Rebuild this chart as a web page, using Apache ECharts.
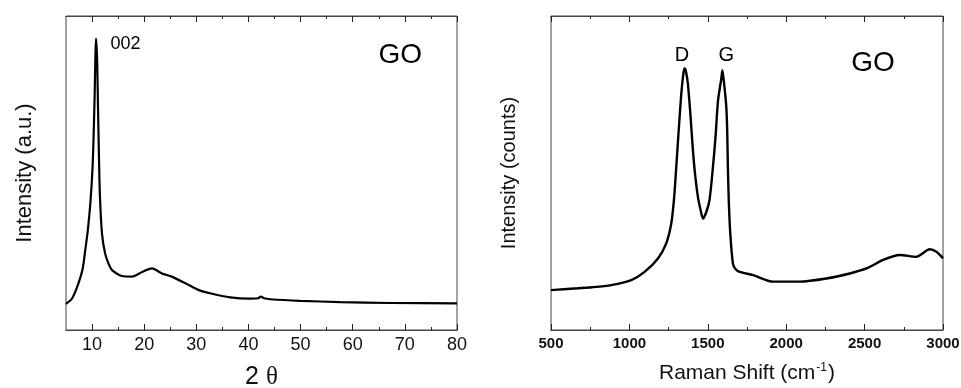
<!DOCTYPE html>
<html><head><meta charset="utf-8">
<script src="https://cdn.jsdelivr.net/npm/echarts@6/dist/echarts.min.js"></script>
<style>html,body{margin:0;padding:0;background:#fff}#c{width:961px;height:388px}</style>
</head><body><div id="c"></div>
<script>
// XRD pattern (2θ, intensity a.u.)
const xrdX = [5, 6.2, 7.4, 8.2, 8.7, 9.2, 9.7, 10.1, 10.3, 10.5, 10.65, 10.76, 10.9, 11.0, 11.15, 11.3, 11.5, 11.9, 12.5, 13.2, 13.8, 14.7, 15.7, 17.7, 19.6, 21.5, 23.4, 25.3, 27.9, 30.5, 32.6, 36.5, 40.3, 41.8, 42.4, 43.0, 44.2, 49.9, 57.6, 67.2, 80];
const xrdY = [8.3, 10.1, 14.9, 19.5, 25.5, 32, 41, 52, 62, 75, 88, 92.8, 89, 84, 70, 57, 43, 30.8, 24.4, 21, 19.1, 18, 17.2, 17.0, 18.5, 19.6, 18.0, 17.0, 14.9, 12.7, 11.7, 10.4, 10.0, 10.1, 10.6, 10.1, 9.8, 9.3, 8.9, 8.6, 8.5];
// Raman spectrum (shift cm-1, counts)
const ramanX = [500, 580, 671, 760, 884, 1012, 1097, 1182, 1235, 1267, 1285, 1299, 1315, 1331, 1345, 1352, 1360, 1373, 1390, 1405, 1420, 1437, 1455, 1469, 1490, 1511, 1533, 1550, 1565, 1586, 1593, 1605, 1618, 1624, 1628, 1634, 1643, 1660, 1675, 1703, 1788, 1916, 2086, 2256, 2405, 2512, 2618, 2724, 2830, 2915, 2958, 3000];
const ramanY = [12.7, 13.0, 13.3, 13.6, 14.3, 15.9, 18.5, 22.8, 27.6, 33.9, 42, 52, 64, 75.3, 82, 83.3, 82.5, 78.5, 68, 57.3, 49, 42.4, 38, 35.5, 37.5, 41.4, 52, 62, 73, 80, 82.7, 78, 71, 63, 52, 41, 31, 21.2, 19.5, 18.5, 17.5, 15.4, 15.4, 16.4, 18.0, 19.6, 22.3, 23.9, 23.3, 25.7, 24.9, 22.8];
// ticks
const xrdMajor = [10, 20, 30, 40, 50, 60, 70, 80];
const xrdMinor = [15, 25, 35, 45, 55, 65, 75];
// annotations
const xrdNotes = [{text: '002', x: 16.4, y: 91.2, size: 18}, {text: 'GO', x: 69.1, y: 87.5, size: 28}];
const ramanNotes = [{text: 'D', x: 1335, y: 87.5, size: 20}, {text: 'G', x: 1618, y: 87.5, size: 20}, {text: 'GO', x: 2554, y: 84.9, size: 28}];

const FONT = 'Liberation Sans, Arial, sans-serif';
const zip = (a, b) => a.map((v, i) => [v, b[i]]);
const tickCol = '#222';
const lineCol = '#444';

const leftBox = {left: 66, right: 504, top: 16, bottom: 58, containLabel: false, outerBoundsMode: 'none'};
const rightBox = {left: 551, right: 18, top: 16, bottom: 58, containLabel: false, outerBoundsMode: 'none'};

function xAx(grid, min, max, opts) {
  return Object.assign({
    type: 'value', gridIndex: grid, min: min, max: max,
    axisLine: {show: true, onZero: false, lineStyle: {color: lineCol, width: 1}}, splitLine: {show: false},
    axisLabel: {show: false}, axisTick: {show: false}
  }, opts);
}
function hiddenY(grid) {
  return {type: 'value', gridIndex: grid, min: 0, max: 100, show: false};
}
function notes(arr) {
  return {
    symbol: 'circle', symbolSize: 0,
    data: arr.map(n => ({coord: [n.x, n.y], value: n.text,
      label: {show: true, position: 'inside', formatter: n.text, fontSize: n.size, color: '#000', fontFamily: FONT}}))
  };
}

const chart = echarts.init(document.getElementById('c'), null, {renderer: 'canvas'});
chart.setOption({
  animation: false,
  grid: [
    Object.assign({show: true, borderColor: lineCol, borderWidth: 1}, leftBox),
    Object.assign({}, leftBox),
    Object.assign({}, leftBox),
    Object.assign({}, leftBox),
    Object.assign({show: true, borderColor: lineCol, borderWidth: 1}, rightBox),
    Object.assign({}, rightBox)
  ],
  xAxis: [
    xAx(0, 5, 80, {position: 'bottom',
      axisLabel: {show: true, customValues: xrdMajor, fontSize: 18, color: '#111', fontFamily: FONT, margin: 6},
      axisTick: {show: true, inside: true, length: 6, customValues: xrdMajor, lineStyle: {color: tickCol}},
      name: '2 {th|θ}', nameLocation: 'middle', nameGap: 35,
      nameTextStyle: {fontSize: 25, color: '#111', fontFamily: FONT, rich: {th: {fontSize: 25, fontFamily: 'Liberation Serif, serif', color: '#111'}}}}),
    xAx(1, 5, 80, {position: 'bottom',
      axisTick: {show: true, inside: true, length: 3, customValues: xrdMinor, lineStyle: {color: tickCol}}}),
    xAx(2, 5, 80, {position: 'top',
      axisTick: {show: true, inside: true, length: 6, customValues: xrdMajor, lineStyle: {color: tickCol}}}),
    xAx(3, 5, 80, {position: 'top',
      axisTick: {show: true, inside: true, length: 3, customValues: xrdMinor, lineStyle: {color: tickCol}}}),
    xAx(4, 500, 3000, {position: 'bottom', interval: 500,
      axisLabel: {show: true, fontSize: 15, fontWeight: 'bold', color: '#111', fontFamily: FONT, margin: 6, formatter: v => String(v)},
      axisTick: {show: true, inside: true, length: 6, lineStyle: {color: tickCol}},
      minorTick: {show: true, splitNumber: 2, length: 3, lineStyle: {color: tickCol}},
      name: 'Raman Shift (cm{sup|-1})', nameLocation: 'middle', nameGap: 32,
      nameTextStyle: {fontSize: 21, color: '#111', fontFamily: FONT, rich: {sup: {fontSize: 12, verticalAlign: 'top', padding: [0, 1, 10, 1], color: '#111', fontFamily: FONT}}}}),
    xAx(5, 500, 3000, {position: 'top', interval: 500,
      axisTick: {show: true, inside: true, length: 6, lineStyle: {color: tickCol}},
      minorTick: {show: true, splitNumber: 2, length: 3, lineStyle: {color: tickCol}}})
  ],
  yAxis: [
    {type: 'value', gridIndex: 0, min: 0, max: 100, axisLine: {show: false}, axisTick: {show: false}, axisLabel: {show: false}, splitLine: {show: false},
      name: 'Intensity (a.u.)', nameLocation: 'middle', nameGap: 30, nameTextStyle: {fontSize: 22, color: '#111', fontFamily: FONT}},
    hiddenY(1), hiddenY(2), hiddenY(3),
    {type: 'value', gridIndex: 4, min: 0, max: 100, axisLine: {show: false}, axisTick: {show: false}, axisLabel: {show: false}, splitLine: {show: false},
      name: 'Intensity (counts)', nameLocation: 'middle', nameGap: 32, nameTextStyle: {fontSize: 20, color: '#111', fontFamily: FONT}},
    hiddenY(5)
  ],
  series: [
    {type: 'line', xAxisIndex: 0, yAxisIndex: 0, data: zip(xrdX, xrdY), showSymbol: false, smooth: 0.25,
      lineStyle: {color: '#000', width: 2.2}, markPoint: notes(xrdNotes)},
    {type: 'line', xAxisIndex: 4, yAxisIndex: 4, data: zip(ramanX, ramanY), showSymbol: false, smooth: 0.25,
      lineStyle: {color: '#000', width: 2.4}, markPoint: notes(ramanNotes)}
  ]
});
</script></body></html>
